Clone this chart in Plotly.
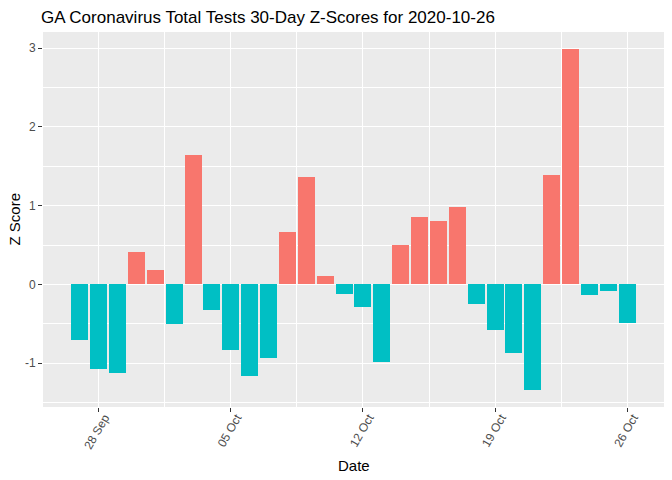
import plotly.graph_objects as go
import pandas as pd

dates = pd.date_range("2020-09-27", "2020-10-26", freq="D").strftime("%Y-%m-%d").tolist()
z_scores = [-0.70, -1.08, -1.12, 0.41, 0.18, -0.50, 1.65, -0.33, -0.83, -1.16,
            -0.93, 0.67, 1.37, 0.11, -0.12, -0.29, -0.98, 0.50, 0.86, 0.80,
            0.98, -0.25, -0.58, -0.87, -1.34, 1.39, 2.99, -0.14, -0.085, -0.49]
tick_dates = ["2020-09-28", "2020-10-05", "2020-10-12", "2020-10-19", "2020-10-26"]
tick_labels = ["28 Sep", "05 Oct", "12 Oct", "19 Oct", "26 Oct"]
minor_dates = ["2020-10-01 12:00", "2020-10-08 12:00", "2020-10-15 12:00", "2020-10-22 12:00"]

colors = ["#F8766D" if v > 0 else "#00BFC4" for v in z_scores]

fig = go.Figure(go.Bar(
    x=dates, y=z_scores, marker=dict(color=colors, line=dict(width=0)),
    width=0.9 * 86400000, showlegend=False, hoverinfo="skip",
))

L, R, T, B = 43, 8, 32, 73
fig.update_layout(
    width=672, height=480,
    margin=dict(l=L, r=R, t=T, b=B, autoexpand=False),
    paper_bgcolor="white", plot_bgcolor="#EBEBEB",
    font=dict(family="Liberation Sans, Arial, sans-serif", color="black"),
    title=dict(text="GA Coronavirus Total Tests 30-Day Z-Scores for 2020-10-26",
               x=41/672, xanchor="left", y=1 - 17/480, yanchor="middle",
               font=dict(size=17, color="black")),
    bargap=0,
    annotations=[
        dict(text="Date", xref="paper", yref="paper", x=0.5, y=-(465 - 407) / (480 - T - B),
             xanchor="center", yanchor="middle", showarrow=False,
             font=dict(size=15, color="black")),
        dict(text="Z Score", xref="paper", yref="paper", x=-(L - 14) / (672 - L - R),
             y=0.5, xanchor="center", yanchor="middle", showarrow=False, textangle=-90,
             font=dict(size=15, color="black")),
    ],
)
fig.update_xaxes(
    type="date", automargin=False,
    range=["2020-09-25 01:19", "2020-10-27 22:41"],
    tickmode="array", tickvals=tick_dates, ticktext=tick_labels,
    tickangle=-60, tickfont=dict(size=12, color="#4D4D4D"),
    ticks="outside", ticklen=4, tickcolor="#333333", tickwidth=1,
    ticklabelshift=6, ticklabelstandoff=-6,
    showgrid=True, gridcolor="white", gridwidth=1.4,
    minor=dict(tickvals=minor_dates, showgrid=True, gridcolor="white", gridwidth=0.7, ticks=""),
    zeroline=False, showline=False,
)
fig.update_yaxes(
    automargin=False,
    range=[-1.5565, 3.2065],
    tickmode="array", tickvals=[-1, 0, 1, 2, 3], ticktext=["-1", "0", "1", "2", "3"],
    tickfont=dict(size=12, color="#4D4D4D"),
    ticks="outside", ticklen=4, tickcolor="#333333", tickwidth=1,
    showgrid=True, gridcolor="white", gridwidth=1.4,
    minor=dict(tickvals=[-1.5, -0.5, 0.5, 1.5, 2.5], showgrid=True, gridcolor="white", gridwidth=0.7, ticks=""),
    zeroline=False, showline=False,
)

fig.write_html("out.html", config={"displayModeBar": False})

# remove the browser's default page margin so the figure sits at the window's corner
with open("out.html", "r", encoding="utf-8") as f:
    html = f.read()
html = html.replace("<head>", "<head><style>html,body{margin:0;padding:0;overflow:hidden;}</style>", 1)
with open("out.html", "w", encoding="utf-8") as f:
    f.write(html)
